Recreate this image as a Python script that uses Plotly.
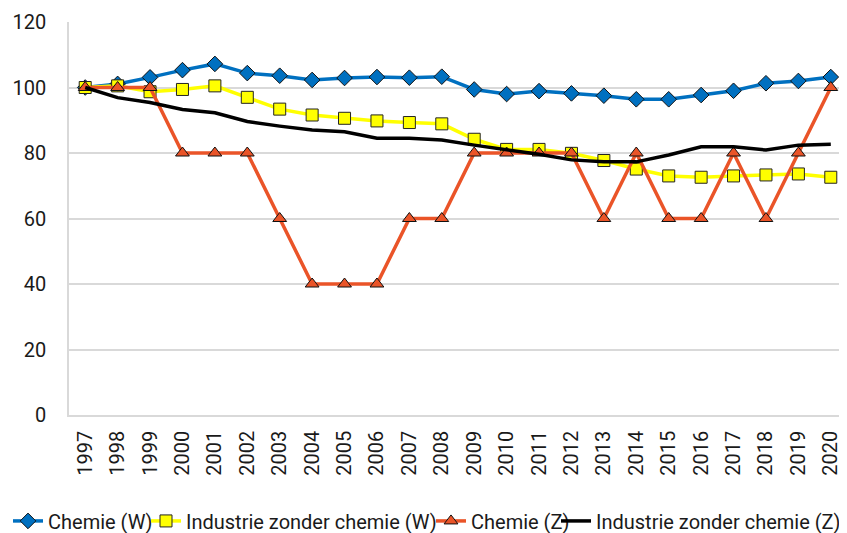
import plotly.graph_objects as go

years = [str(y) for y in range(1997, 2021)]
chemie_w = [100.0, 101.1, 103.1, 105.3, 107.2, 104.4, 103.6, 102.3, 102.9, 103.2, 103.0, 103.3,
            99.4, 98.0, 98.9, 98.2, 97.5, 96.4, 96.4, 97.7, 99.0, 101.3, 102.0, 103.2]
industrie_w = [100.0, 100.5, 98.7, 99.4, 100.5, 97.0, 93.4, 91.6, 90.6, 89.8, 89.3, 88.9,
               84.2, 81.1, 81.1, 79.9, 77.7, 75.1, 73.0, 72.6, 73.0, 73.3, 73.6, 72.6]
chemie_z = [100, 100, 100, 80, 80, 80, 60, 40, 40, 40, 60, 60,
            80, 80, 80, 80, 60, 80, 60, 60, 80, 60, 80, 100]
industrie_z = [100.0, 96.9, 95.4, 93.3, 92.3, 89.6, 88.2, 87.0, 86.5, 84.5, 84.5, 84.0,
               82.4, 81.1, 79.6, 77.9, 77.3, 77.3, 79.4, 81.9, 81.9, 80.9, 82.4, 82.7]

names = ["Chemie (W)", "Industrie zonder chemie (W)", "Chemie (Z)", "Industrie zonder chemie (Z)"]
y_ticks = [0, 20, 40, 60, 80, 100, 120]

FIG_W, FIG_H = 839, 525  # page body has an 8px margin

fig = go.Figure()
fig.add_trace(go.Scatter(x=years, y=chemie_w, name=names[0], mode="lines+markers",
                         legend="legend",
                         line=dict(color="#0070C0", width=3.5),
                         marker=dict(symbol="diamond", size=12, color="#0070C0",
                                     line=dict(color="#111111", width=1))))
fig.add_trace(go.Scatter(x=years, y=industrie_w, name=names[1], mode="lines+markers",
                         legend="legend2",
                         line=dict(color="#FFFF00", width=3.5),
                         marker=dict(symbol="square", size=12, color="#FFFF00",
                                     line=dict(color="#222222", width=1))))
fig.add_trace(go.Scatter(x=years, y=chemie_z, name=names[2], mode="lines+markers",
                         legend="legend3",
                         line=dict(color="#EA5428", width=3.5),
                         marker=dict(symbol="triangle-up", size=12, color="#EA5428",
                                     line=dict(color="#111111", width=1))))
fig.add_trace(go.Scatter(x=years, y=industrie_z, name=names[3], mode="lines",
                         legend="legend4",
                         line=dict(color="#000000", width=3.5)))


def leg(px):
    return dict(orientation="h", xref="container", x=px / FIG_W, xanchor="left",
                yref="container", y=0.023, yanchor="middle", font=dict(size=20),
                itemwidth=30, borderwidth=0, bgcolor="rgba(0,0,0,0)")


fig.update_layout(
    width=FIG_W, height=FIG_H,
    margin=dict(l=61, r=0, t=14, b=118, autoexpand=False),
    paper_bgcolor="white", plot_bgcolor="white",
    font=dict(family="Roboto", size=20, color="#1a1a1a"),
    showlegend=True,
    legend=leg(0), legend2=leg(138), legend3=leg(423), legend4=leg(548),
    xaxis=dict(type="category", range=[-0.5, 23.5], tickangle=-90, showgrid=False,
               showline=True, linecolor="#d9d9d9", linewidth=1.5, ticks="",
               tickfont=dict(size=20), ticklabelstandoff=6, automargin=False),
    yaxis=dict(range=[0, 120], tickvals=y_ticks, showgrid=True, gridcolor="#d9d9d9",
               gridwidth=1.5, showline=True, linecolor="#d9d9d9", linewidth=1.5,
               zeroline=False, ticks="", tickfont=dict(size=20), ticklabelstandoff=17,
               automargin=False),
)

fig.write_html("out.html")
